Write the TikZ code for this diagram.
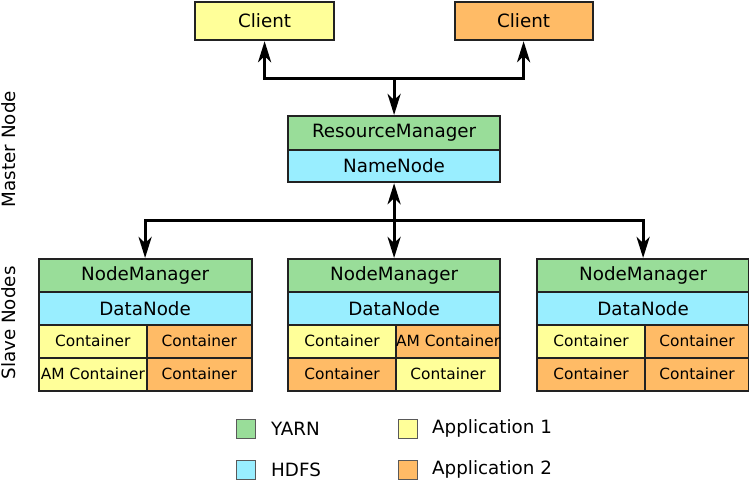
\documentclass[tikz,border=0pt]{standalone}
\usepackage{fontspec}
\setmainfont{DejaVu Sans}
\usetikzlibrary{arrows.meta}
\definecolor{yarn}{RGB}{153,221,153}
\definecolor{hdfs}{RGB}{153,238,255}
\definecolor{appone}{RGB}{255,255,153}
\definecolor{apptwo}{RGB}{255,187,102}
\definecolor{edge}{RGB}{34,34,34}
\tikzset{
  cell/.style={draw=edge, line width=2.2pt, inner sep=0pt, anchor=north west, font=\fontsize{18.3}{20}\selectfont, text=black},
  ccell/.style={cell, font=\fontsize{15.4}{17}\selectfont, minimum height=33pt},
  arr/.style={line width=3pt, -{Stealth[length=21pt,width=13pt,inset=6pt]}},
  legbox/.style={draw=black!65, line width=1pt, minimum width=19pt, minimum height=19pt, inner sep=0pt},
  legtext/.style={anchor=west, font=\fontsize{18.3}{20}\selectfont, text=black, inner sep=0pt},
  side/.style={rotate=90, font=\fontsize{18.3}{20}\selectfont, text=black, inner sep=0pt}
}
\begin{document}
\begin{tikzpicture}[x=1pt,y=-1pt]
\useasboundingbox (0,0) rectangle (749,480);
% clients
\node[cell, fill=appone, minimum width=139pt, minimum height=38pt] (c1) at (194,1) {Client};
\node[cell, fill=apptwo, minimum width=138pt, minimum height=38pt] (c2) at (453.5,1) {Client};
% master
\node[cell, fill=yarn, minimum width=212pt, minimum height=33.5pt] (rm) at (287,115) {ResourceManager};
\node[cell, fill=hdfs, minimum width=212pt, minimum height=32.5pt] (nn) at (287,148.5) {NameNode};
% slave 1
\node[cell, fill=yarn, minimum width=213pt, minimum height=33pt] (nm1) at (37.5,258) {NodeManager};
\node[cell, fill=hdfs, minimum width=213pt, minimum height=32.5pt] (dn1) at (37.5,291) {DataNode};
\node[ccell, fill=appone, minimum width=108.5pt] (a11) at (37.5,323.5) {Container};
\node[ccell, fill=apptwo, minimum width=104.5pt] (a12) at (146,323.5) {Container};
\node[ccell, fill=appone, minimum width=108.5pt] (a13) at (37.5,356.5) {AM Container};
\node[ccell, fill=apptwo, minimum width=104.5pt] (a14) at (146,356.5) {Container};
% slave 2
\node[cell, fill=yarn, minimum width=212pt, minimum height=33pt] (nm2) at (287,258) {NodeManager};
\node[cell, fill=hdfs, minimum width=212pt, minimum height=32.5pt] (dn2) at (287,291) {DataNode};
\node[ccell, fill=appone, minimum width=108pt] (a21) at (287,323.5) {Container};
\node[ccell, fill=apptwo, minimum width=104pt] (a22) at (395,323.5) {AM Container};
\node[ccell, fill=apptwo, minimum width=108pt] (a23) at (287,356.5) {Container};
\node[ccell, fill=appone, minimum width=104pt] (a24) at (395,356.5) {Container};
% slave 3
\node[cell, fill=yarn, minimum width=212pt, minimum height=33pt] (nm3) at (536,258) {NodeManager};
\node[cell, fill=hdfs, minimum width=212pt, minimum height=32.5pt] (dn3) at (536,291) {DataNode};
\node[ccell, fill=appone, minimum width=108pt] (a31) at (536,323.5) {Container};
\node[ccell, fill=apptwo, minimum width=104pt] (a32) at (644,323.5) {Container};
\node[ccell, fill=apptwo, minimum width=108pt] (a33) at (536,356.5) {Container};
\node[ccell, fill=apptwo, minimum width=104pt] (a34) at (644,356.5) {Container};
% connectors
\coordinate (j1) at (rm.north |- 0,78);
\coordinate (j2) at (nn.south |- 0,220.5);
\draw[arr] (j1) -| (c1.south);
\draw[arr] (j1) -| (c2.south);
\draw[arr] (j1) -- (rm.north);
\draw[arr] (j2) -- (nn.south);
\draw[arr] (j2) -- (nm2.north);
\draw[arr] (j2) -| (nm1.north);
\draw[arr] (j2) -| (nm3.north);
% side labels
\node[side] (lm) at (9,149) {Master Node};
\node[side] (ls) at (9,323) {Slave Nodes};
% legend
\node[legbox, fill=yarn] (ly) at (246,428.5) {};
\node[legtext] (lyt) at (271,428.5) {YARN};
\node[legbox, fill=hdfs] (lh) at (246,469.5) {};
\node[legtext] (lht) at (271,469.5) {HDFS};
\node[legbox, fill=appone] (l1) at (408,428.5) {};
\node[legtext] (l1t) at (432,428.5) {Application 1};
\node[legbox, fill=apptwo] (l2) at (408,469.5) {};
\node[legtext] (l2t) at (432,469.5) {Application 2};
\end{tikzpicture}
\end{document}
